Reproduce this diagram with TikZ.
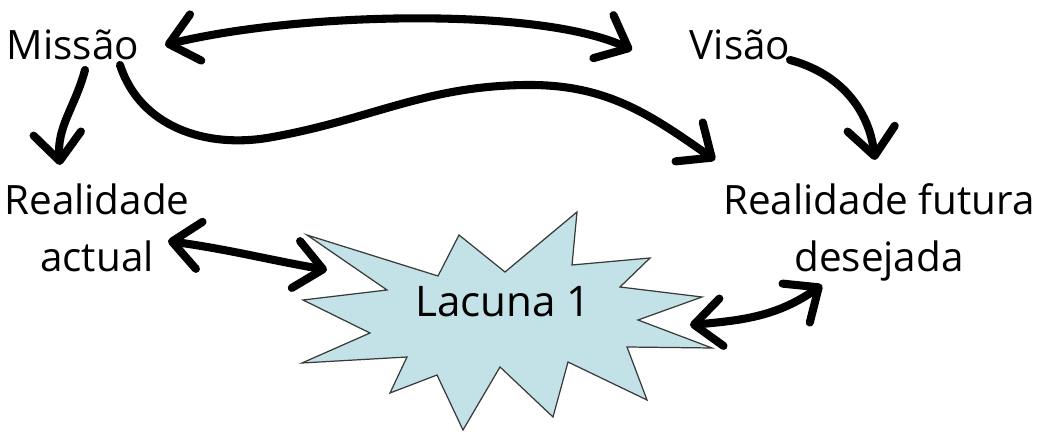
\documentclass[tikz,border=0pt]{standalone}
\usepackage{fontspec}
\newfontfamily\hand{Open Sans}
\usepackage{xcolor}
\definecolor{burstfill}{HTML}{C2E2E7}
\definecolor{burstline}{HTML}{3A3A3A}
\usepackage{tikz}
\usetikzlibrary{arrows.meta,calc}

\begin{document}
\begin{tikzpicture}[
  lbl/.style={font=\hand\fontsize{23}{32.5}\selectfont,align=center,inner sep=0pt},
  link/.style={line width=4.6pt,line cap=round,black},
  burst/.style={draw=burstline,fill=burstfill,line width=0.7pt},
  >={Straight Barb[length=5.5mm,width=9.5mm,round]}]
\useasboundingbox (0,0) rectangle (20.82,8.64);
% the gap
\draw[burst] (6.14,3.94) -- (8.76,3.12) -- (9.18,3.94) -- (10.10,3.20) -- (11.54,4.40)
  -- (11.44,3.34) -- (13.00,3.48) -- (12.40,2.90) -- (14.04,2.70) -- (12.76,2.24)
  -- (14.24,1.68) -- (12.54,1.70) -- (12.94,0.64) -- (11.36,1.40) -- (11.06,0.30)
  -- (10.00,1.30) -- (9.26,0.04) -- (8.74,1.14) -- (7.80,0.78) -- (8.14,1.50)
  -- (6.04,1.38) -- (7.40,1.98) -- (6.06,2.64) -- (7.74,2.84) -- cycle;
\node[lbl,font=\hand\fontsize{24}{30}\selectfont] (gap) at (10.06,2.60) {Lacuna 1};
% texts
\node[lbl] (miss) at (1.46,7.75) {Missão};
\node[lbl] (vis) at (14.80,7.75) {Visão};
\node[lbl] (actual) at (1.94,4.08) {Realidade\\actual};
\node[lbl] (future) at (17.58,3.99) {Realidade futura\\desejada};
% arrows
\draw[link,<->] ($(miss)+(1.84,-0.01)$) .. controls +(2.7,0.66) and +(-1.84,0.86) .. ($(vis)+(-2.16,-0.11)$);
\draw[link,->] ($(miss)+(0.94,-0.41)$) to[out=-72,in=190] ++(3.0,-1.45) to[out=10,in=180] ++(5.2,1.05)
  to[out=0,in=145] ($(future)+(-3.28,1.45)$);
\draw[link,->] ($(miss)+(0.24,-0.51)$) to[out=-105,in=95] ($(actual)+(-0.74,1.26)$);
\draw[link,->] ($(vis)+(1.0,-0.31)$) to[out=-15,in=97] ($(future)+(-0.08,1.45)$);
\draw[link,<->] ($(actual)+(1.42,-0.26)$) to[out=-8,in=170] ($(gap)+(-3.52,0.64)$);
\draw[link,<->] ($(gap)+(3.74,-0.46)$) to[out=5,in=215] ($(future)+(-1.14,-1.05)$);
\end{tikzpicture}
\end{document}
